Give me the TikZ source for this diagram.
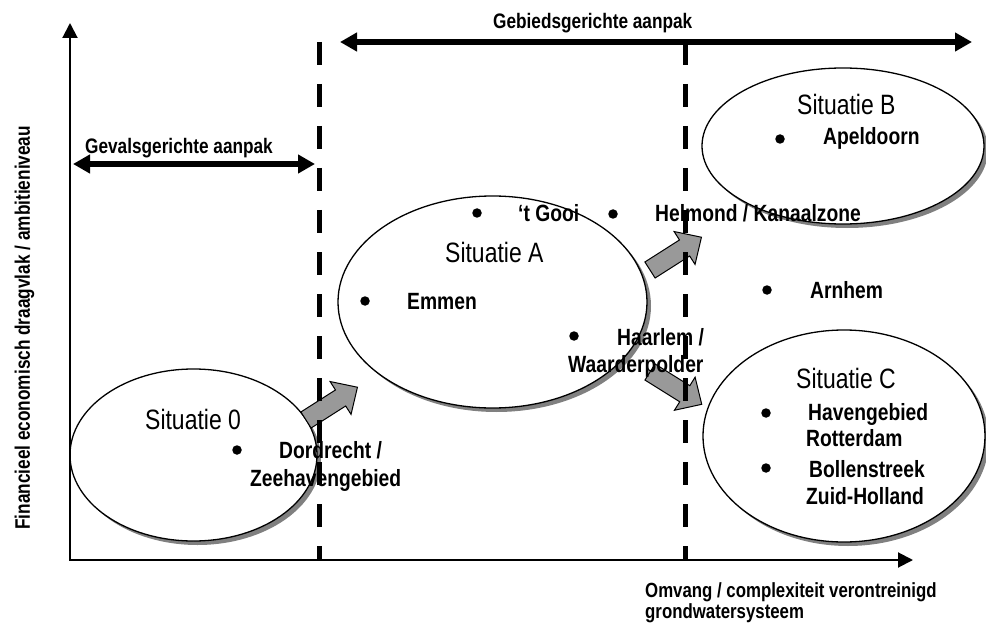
\documentclass[tikz,border=0pt]{standalone}
\usepackage{fontspec}
\setmainfont{Liberation Sans}[FakeStretch=0.82]
\usetikzlibrary{arrows.meta,shapes.geometric,shadows}
\begin{document}
\begin{tikzpicture}[x=1pt,y=-1pt,
  sit/.style={ellipse,draw=black,line width=1.3pt,fill=white,inner sep=0pt,outer sep=0pt,
     drop shadow={shadow xshift=4pt,shadow yshift=-4pt,fill=black!50,opacity=1}},
  sittext/.style={anchor=base west,inner sep=0pt,font=\fontsize{28}{30}\selectfont},
  place/.style={anchor=base west,inner sep=0pt,font=\bfseries\fontsize{23.5}{26}\selectfont},
  axlabel/.style={anchor=base west,inner sep=0pt,font=\bfseries\fontsize{21}{23}\selectfont},
  xlabel/.style={anchor=base west,inner sep=0pt,font=\bfseries\fontsize{20.5}{22}\selectfont},
  dot/.style={circle,fill=black,inner sep=0pt,minimum size=9.5pt},
  axisline/.style={line width=2pt,{Triangle[length=15pt,width=15pt]}-{Triangle[length=15pt,width=15pt]}},
  spanarrow/.style={line width=5.5pt,{Triangle[length=17pt,width=18pt]}-{Triangle[length=17pt,width=18pt]}},
  divider/.style={line width=5pt,dash pattern=on 23pt off 19pt},
  blockarrow/.style={draw=black,line width=1pt,fill=black!40,line join=miter},
]
\useasboundingbox (0,0) rectangle (986,623);

% situation ellipses
\node[sit,minimum width=247pt,minimum height=172pt] (e0) at (193.5,455) {};
\node[sit,minimum width=309pt,minimum height=212pt] (eA) at (492.5,302) {};
\node[sit,minimum width=282pt,minimum height=156pt] (eB) at (843,146) {};
\node[sit,minimum width=282pt,minimum height=212pt] (eC) at (844,436) {};

% grey block arrows
\begin{scope}[shift={(306,420)},rotate=32.5]
  \draw[blockarrow] (0,-9.5) -- (41,-9.5) -- (41,-19.5) -- (61,0) -- (41,19.5) -- (41,9.5) -- (0,9.5) -- cycle;
\end{scope}
\begin{scope}[shift={(650,270)},rotate=32.5]
  \draw[blockarrow] (0,-9.5) -- (41,-9.5) -- (41,-19.5) -- (61,0) -- (41,19.5) -- (41,9.5) -- (0,9.5) -- cycle;
\end{scope}
\begin{scope}[shift={(650,372)},rotate=-32]
  \draw[blockarrow] (0,-9.5) -- (41,-9.5) -- (41,-19.5) -- (61,0) -- (41,19.5) -- (41,9.5) -- (0,9.5) -- cycle;
\end{scope}

% axes
\coordinate (O) at (70,560);
\coordinate (ytop) at (70,23);
\coordinate (xend) at (913,560);
\draw[axisline] (ytop) -- (O) -- (xend);

% dividers
\coordinate (d1t) at (319,42);
\coordinate (d1b) at (319,560);
\coordinate (d2t) at (685,42);
\coordinate (d2b) at (685,560);
\draw[divider] (d1t) -- (d1b);
\draw[divider] (d2t) -- (d2b);

% span arrows
\coordinate (gevL) at (73,164);
\coordinate (gevR) at (315,164);
\coordinate (gebL) at (340,42);
\coordinate (gebR) at (972,42);
\draw[spanarrow] (gevL) -- (gevR);
\draw[spanarrow] (gebL) -- (gebR);
\node[axlabel] (gevlab) at (85,154) {Gevalsgerichte aanpak};
\node[axlabel] (geblab) at (493,29) {Gebiedsgerichte aanpak};

% axis labels
\node[axlabel,rotate=90] (ylab) at (30,530) {Financieel economisch draagvlak / ambitieniveau};
\node[xlabel] (xlab1) at (645,597) {Omvang / complexiteit verontreinigd};
\node[xlabel] (xlab2) at (645,618) {grondwatersysteem};

% situation titles
\node[sittext] (t0) at (145,429) {Situatie 0};
\node[sittext] (tA) at (445,262) {Situatie A};
\node[sittext] (tB) at (797,115) {Situatie B};
\node[sittext] (tC) at (796,388) {Situatie C};

% places
\node[dot] (b1) at (237,450) {};
\node[place] (p1a) at (279,458) {Dordrecht /};
\node[place] (p1b) at (250,486) {Zeehavengebied};

\node[dot] (b2) at (477,213) {};
\node[place] (p2) at (518,222) {‘t Gooi};

\node[dot] (b3) at (613,214) {};
\node[place] (p3) at (655,222) {Helmond / Kanaalzone};

\node[dot] (b4) at (767,290) {};
\node[place] (p4) at (810,298) {Arnhem};

\node[dot] (b5) at (365,301) {};
\node[place] (p5) at (407,309) {Emmen};

\node[dot] (b6) at (574,336) {};
\node[place] (p6a) at (617,345) {Haarlem /};
\node[place] (p6b) at (568,372) {Waarderpolder};

\node[dot] (b7) at (780,139) {};
\node[place] (p7) at (823,145) {Apeldoorn};

\node[dot] (b8) at (766,413) {};
\node[place] (p8a) at (808,420) {Havengebied};
\node[place] (p8b) at (806,446) {Rotterdam};

\node[dot] (b9) at (766,468) {};
\node[place] (p9a) at (809,477) {Bollenstreek};
\node[place] (p9b) at (806,504) {Zuid-Holland};
\end{tikzpicture}
\end{document}
